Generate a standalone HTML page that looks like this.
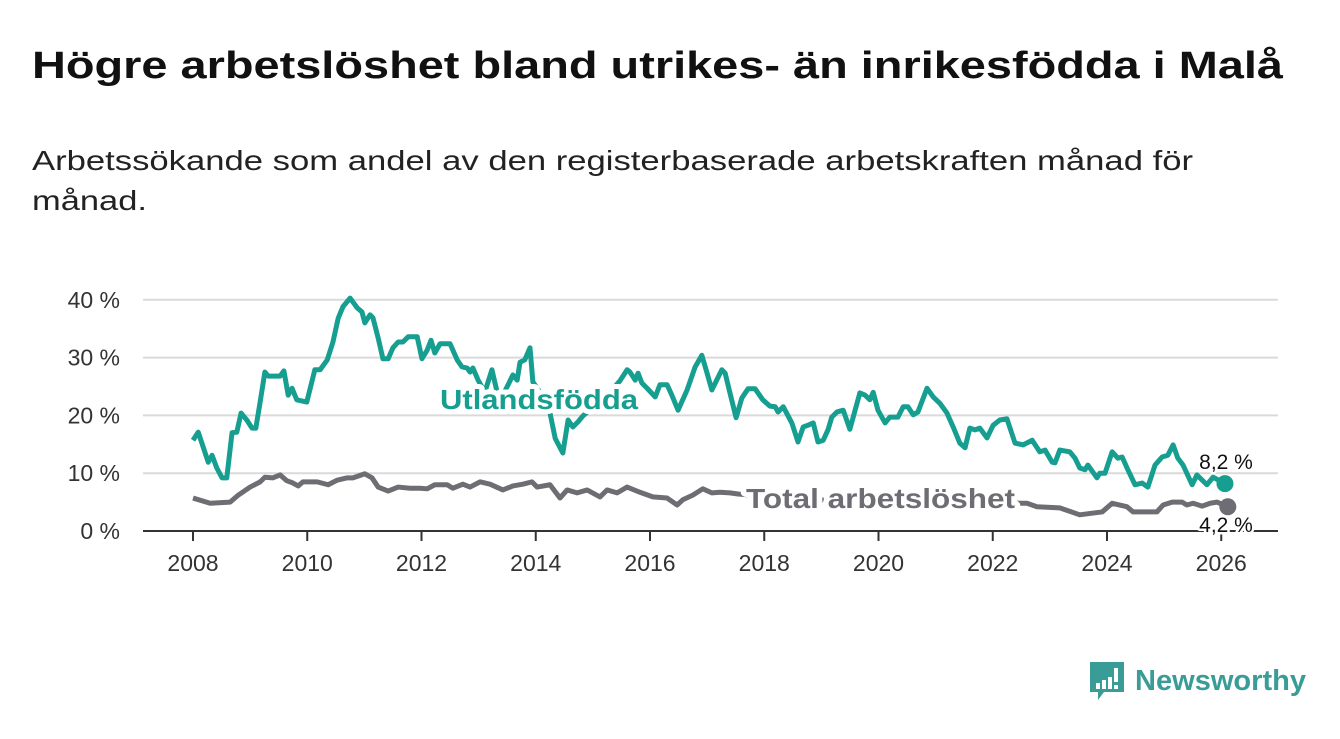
<!DOCTYPE html>
<html><head><meta charset="utf-8"><style>
body{margin:0;background:#fff;width:1340px;height:734px;overflow:hidden;font-family:"Liberation Sans",sans-serif}
</style></head><body>
<svg width="1340" height="734" viewBox="0 0 1340 734">
<text x="32" y="78" font-size="38" font-weight="bold" fill="#111" textLength="1251" lengthAdjust="spacingAndGlyphs">Högre arbetslöshet bland utrikes- än inrikesfödda i Malå</text>
<text x="32" y="170" font-size="28" fill="#222" textLength="1161" lengthAdjust="spacingAndGlyphs">Arbetssökande som andel av den registerbaserade arbetskraften månad för</text>
<text x="32" y="210" font-size="28" fill="#222" textLength="115" lengthAdjust="spacingAndGlyphs">månad.</text>
<g id="grid"></g><g id="xaxis"></g><g id="series"></g><g id="labels"></g>
<g>
<path d="M1090 662h34v30h-20l-6 8v-8h-8z" fill="#3a9c97"/>
<rect x="1096" y="683" width="4" height="6" fill="#fff"/><rect x="1102" y="680" width="4" height="9" fill="#fff"/><rect x="1108" y="677" width="4" height="12" fill="#fff"/><rect x="1114" y="668" width="4" height="14" fill="#fff"/><rect x="1114" y="685" width="4" height="4" fill="#fff"/>
<text x="1135" y="690" font-size="29" font-weight="bold" fill="#3a9c97" textLength="171" lengthAdjust="spacingAndGlyphs">Newsworthy</text>
</g>
</svg>
<script>
const yTicks=[0,10,20,30,40];
const yTickLabels=["0 %","10 %","20 %","30 %","40 %"];
const xYears=[2008,2010,2012,2014,2016,2018,2020,2022,2024,2026];
const teal_m=[0,1.1,3.2,4,5,6.1,7.1,8.2,9.2,10.1,11.3,12.4,13.2,14.1,15.1,15.8,18.3,19.1,20,20.8,21.8,23.9,25.6,26.7,28.2,29.4,30.5,31.5,33,34.5,35.5,36.1,37.2,37.8,38.9,39.9,41,42,43.1,44.1,45.2,47.1,48.1,49.2,50,50.8,51.9,54,55.5,56.5,57.6,58.2,58.8,59.9,61.3,62.8,63.9,65.1,66.2,67.2,68.1,68.7,69.7,70.8,71.4,72.9,74.6,76.1,77.7,78.8,79.8,80.9,81.9,83.4,85.5,87.6,89.7,91.2,91.8,92.9,93.5,94.3,95.4,97.1,98.1,99.6,100.6,101.9,103.8,105.5,106.9,108,109,111.1,111.8,112.8,114.1,115.3,116.6,118.1,119.7,121.2,122.3,122.9,124,125.8,127.1,128.2,129.2,130.3,131.3,132.4,133.4,134.2,135.3,136.6,138,139.1,140.1,141.2,142.2,142.9,143.9,145.4,146.4,148.1,149.2,150.2,151.3,152.3,154.2,155.5,156.9,158.4,159.7,161.1,162.2,163.2,164.3,165.3,166.8,168.1,169.5,171,172.7,174.4,176.3,177.9,179,180.5,181.1,182.1,184.2,185.3,186.3,187.4,188,189.9,190.5,191.6,193.1,194.3,195.2,196.4,197.9,199.4,200.6,202.1,203.6,204.8,205.9,206.9,208,209.9,210.9,213,214.3,216.8];
const teal_v=[15.7,17.1,11.9,13.1,10.9,9.2,9.2,17,17.1,20.4,19.2,17.8,17.8,22.3,27.5,26.8,26.8,27.7,23.5,24.7,22.7,22.3,27.9,27.9,29.6,32.7,36.8,38.8,40.3,38.6,37.9,36,37.4,36.9,33.4,29.8,29.8,31.7,32.7,32.7,33.6,33.6,29.8,31.3,33,30.8,32.4,32.4,29.6,28.4,28.2,27.5,28.2,26.1,24,27.9,24,23.5,25.3,27,26.1,29.2,29.6,31.7,25.8,24,22,16,13.5,19.2,18,18.9,19.9,21,22,24,26,27.9,27.5,26.1,27.3,25.6,24.7,23.2,25.3,25.3,23.5,20.9,24.4,28.4,30.4,27.3,24.4,27.9,27.3,23.9,19.6,23,24.6,24.6,22.7,21.6,21.5,20.6,21.5,18.7,15.4,18,18.3,18.7,15.4,15.7,17.5,19.7,20.6,20.9,17.6,20.9,23.9,23.5,22.7,24,20.9,18.7,19.7,19.7,21.5,21.5,20.1,20.6,24.7,23.2,22.1,20.4,18,15.2,14.4,17.8,17.5,17.8,16.1,18.3,19.2,19.4,15.2,14.9,15.7,13.7,14,11.9,11.8,14,13.7,12.6,10.9,10.6,11.4,9.2,10,10,13.7,12.6,12.8,10.6,8,8.3,7.6,11.4,12.8,13.1,14.9,12.6,11.4,8,9.7,8,9.3,8.2];
const gray_m=[0,3.6,7.8,9.5,12,14.1,15.1,16.8,18.3,19.7,21,22.1,23.1,26.1,28.4,30.3,32.4,33.6,36.1,37.6,38.9,41,43.1,45.6,47.7,49.2,50.8,53.4,54.6,56.7,58.2,60.3,62.4,65.1,67.2,69.3,71.2,72.3,75,77.1,78.6,80.7,82.8,85.5,87,89.1,91.2,93.9,96.6,99.6,101.7,102.9,105,107.1,109,110.7,112.8,114.5,127.5,148.5,161,173.7,175.2,177.3,182.1,186.3,189.1,191,193.1,196.2,197.5,202.5,203.8,205.7,207.8,208.8,210.1,212,213.7,215.1,217.4];
const gray_v=[5.7,4.8,5,6.2,7.6,8.5,9.3,9.2,9.7,8.7,8.3,7.8,8.5,8.5,8,8.8,9.2,9.2,9.9,9.2,7.6,6.9,7.6,7.4,7.4,7.3,8,8,7.4,8.1,7.6,8.5,8.1,7.1,7.8,8.1,8.5,7.6,8,5.7,7.1,6.6,7.1,5.9,7.1,6.6,7.6,6.7,5.9,5.7,4.5,5.4,6.2,7.3,6.6,6.7,6.6,6.4,5.5,5,5,4.8,4.8,4.2,4,2.8,3.1,3.3,4.8,4.2,3.3,3.3,4.5,5,5,4.5,4.8,4.3,4.8,5,4.2];
const TEAL="#169f90",GRAY="#6e6d73",NS="http://www.w3.org/2000/svg";
const X=m=>193+m*4.76, XY=y=>193+(y-2008)*57.125, Y=v=>531-v*5.78;
function mk(t,a,p){const e=document.createElementNS(NS,t);for(const k in a)e.setAttribute(k,a[k]);p.appendChild(e);return e;}
const grid=document.getElementById('grid');
yTicks.forEach((v,i)=>{
 if(v>0){const l=mk('line',{x1:143,x2:1278,y1:Y(v),y2:Y(v),stroke:'#dadada','stroke-width':2},grid);
 
 }
 const t=mk('text',{x:120,y:Y(v)+8,'text-anchor':'end','font-size':23,fill:'#333'},grid);t.textContent=yTickLabels[i];
 
 
});
const xa=document.getElementById('xaxis');
const base=mk('line',{x1:143,x2:1278,y1:531,y2:531,stroke:'#333','stroke-width':2},xa);


xYears.forEach(y=>{
 mk('line',{x1:XY(y),x2:XY(y),y1:531,y2:541,stroke:'#333','stroke-width':2},xa);
 const t=mk('text',{x:XY(y),y:571,'text-anchor':'middle','font-size':23,fill:'#333'},xa);t.textContent=y;
 
 
});
const s=document.getElementById('series');
function line(ms,vs,c,name){const p=mk('polyline',{points:ms.map((m,i)=>X(m)+','+Y(vs[i])).join(' '),fill:'none',stroke:c,'stroke-width':5,'stroke-linejoin':'round'},s);
 
 
 const d=mk('circle',{cx:X(ms[ms.length-1]),cy:Y(vs[vs.length-1]),r:8.5,fill:c},s);
 
 }
line(gray_m,gray_v,GRAY,'total-line');
line(teal_m,teal_v,TEAL,'utlandsfodda-line');
const lb=document.getElementById('labels');
function lab(x,y,txt,c,fs,bold,name,anchor,len){const a={x:x,y:y,'font-size':fs,'font-weight':bold?'bold':'normal',fill:c,stroke:'#fff','stroke-width':bold?10:5,'paint-order':'stroke','stroke-linejoin':'round','text-anchor':anchor||'start'};
 if(len){a.textLength=len;a.lengthAdjust='spacingAndGlyphs';}
 const t=mk('text',a,lb);t.textContent=txt;
 
 }
lab(440,409,'Utlandsfödda',TEAL,28,true,'utlandsfodda-label','start',198);
lab(746,508,'Total arbetslöshet',GRAY,28,true,'total-label','start',269);
lab(1226,469,'8,2 %','#111',21,false,'end-value-utlandsfodda','middle');
lab(1226,532,'4,2 %','#111',21,false,'end-value-total','middle');
</script>
</body></html>
